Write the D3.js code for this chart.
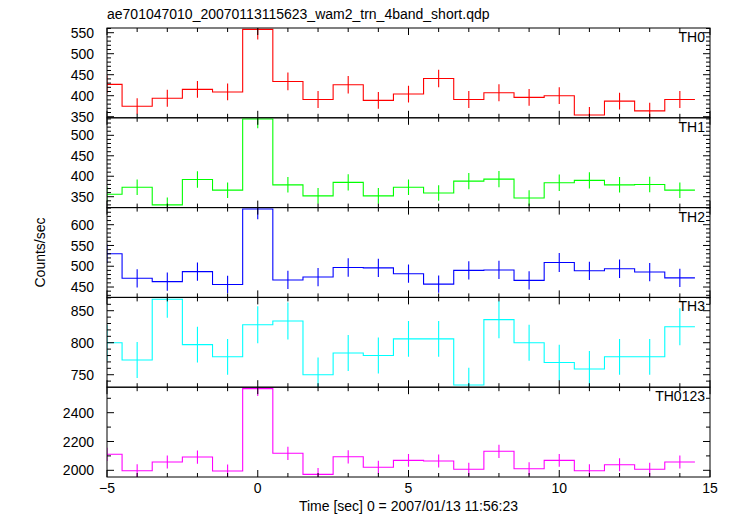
<!DOCTYPE html>
<html>
<head>
<meta charset="utf-8">
<script src="https://cdn.jsdelivr.net/npm/d3@7"></script>
<style>
  html, body { margin: 0; padding: 0; background: #fff; }
  svg { display: block; font-family: "Liberation Sans", Arial, Helvetica, sans-serif; }
</style>
</head>
<body>
<svg id="chart" width="733" height="516"></svg>
<script>
// ---- Data ----
const title = "ae701047010_20070113115623_wam2_trn_4band_short.qdp";
const xLabel = "Time [sec] 0 = 2007/01/13 11:56:23";
const yLabel = "Counts/sec";
const times = [-5, -4, -3, -2, -1, 0, 1, 2, 3, 4, 5, 6, 7, 8, 9, 10, 11, 12, 13, 14];
const xTicks = [-5, 0, 5, 10, 15];

const panelNames = ["TH0", "TH1", "TH2", "TH3", "TH0123"];
const panelColors = ["#ff0000", "#00ff00", "#0000ff", "#00ffff", "#ff00ff"];

const th0 = [427, 375, 394, 415, 409, 558, 434, 391, 426, 389, 404, 441, 391, 407, 396, 400, 354, 387, 364, 391];
const th0Err = [21, 19, 20, 20, 20, 24, 21, 20, 21, 20, 20, 21, 20, 20, 20, 20, 19, 20, 19, 20];
const th1 = [356, 373, 330, 392, 366, 540, 379, 352, 385, 352, 373, 359, 388, 393, 347, 384, 390, 379, 380, 366];
const th1Err = [19, 19, 18, 20, 19, 23, 19, 19, 20, 19, 19, 19, 20, 20, 19, 20, 20, 19, 19, 19];
const th2 = [530, 471, 463, 487, 456, 638, 467, 474, 497, 496, 482, 457, 490, 491, 466, 509, 489, 494, 486, 472];
const th2Err = [23, 22, 22, 22, 21, 25, 22, 22, 22, 22, 22, 21, 22, 22, 22, 23, 22, 22, 22, 22];
const th3 = [800, 773, 868, 797, 778, 828, 834, 750, 784, 780, 806, 806, 734, 836, 800, 769, 759, 778, 778, 825];
const th3Err = [28, 28, 29, 28, 28, 29, 29, 27, 28, 28, 28, 28, 27, 29, 28, 28, 28, 28, 28, 29];
const th0123 = [2111, 1997, 2058, 2092, 1995, 2567, 2118, 1972, 2094, 2021, 2069, 2065, 2007, 2132, 2011, 2069, 1997, 2039, 2007, 2058];
const th0123Err = [46, 45, 45, 46, 45, 51, 46, 44, 46, 45, 45, 45, 45, 46, 45, 45, 45, 45, 45, 45];

// axis ranges and tick settings per panel
const yDomains = [[347.4, 561.2], [323.4, 542.8], [425, 641.2], [730.5, 870.8], [1953.5, 2577]];
const yMajorSteps = [50, 50, 50, 50, 200];
const yMinorSteps = [10, 10, 10, 10, 100];

const seriesValues = [th0, th1, th2, th3, th0123];
const seriesErrors = [th0Err, th1Err, th2Err, th3Err, th0123Err];

// ---- Layout ----
const svg = d3.select("#chart");
const mLeft = 107, mRight = 710, mTop = 28, mBottom = 477;
const nP = panelNames.length;
const pH = (mBottom - mTop) / nP;

const x = d3.scaleLinear().domain([-5, 15]).range([mLeft, mRight]);

const defs = svg.append("defs");

function ticksBetween(lo, hi, step) {
  const out = [];
  const start = Math.ceil(lo / step - 1e-9) * step;
  for (let v = start; v <= hi + 1e-9; v += step) out.push(+v.toFixed(6));
  return out;
}

const xMinor = ticksBetween(-5, 15, 1);

panelNames.forEach((name, i) => {
  const y0 = mTop + i * pH, y1 = y0 + pH;
  const y = d3.scaleLinear().domain(yDomains[i]).range([y1, y0]);
  const g = svg.append("g");
  const color = panelColors[i];

  defs.append("clipPath").attr("id", "clip" + i)
    .append("rect").attr("x", mLeft).attr("y", y0).attr("width", mRight - mLeft).attr("height", pH);

  // data: step histogram
  const vals = seriesValues[i], errs = seriesErrors[i];
  const pts = [];
  times.forEach((t, k) => { pts.push([t - 0.5, vals[k]]); pts.push([t + 0.5, vals[k]]); });
  const line = d3.line().x(d => x(d[0])).y(d => y(d[1]));
  const dg = g.append("g").attr("clip-path", "url(#clip" + i + ")");
  dg.append("path").attr("d", line(pts)).attr("fill", "none")
    .attr("stroke", color).attr("stroke-width", 1.1);
  dg.selectAll("line.err").data(times).enter().append("line")
    .attr("x1", t => x(t)).attr("x2", t => x(t))
    .attr("y1", (t, k) => y(vals[k] - errs[k]))
    .attr("y2", (t, k) => y(vals[k] + errs[k]))
    .attr("stroke", color).attr("stroke-width", 1.1);

  // frame
  g.append("rect").attr("x", mLeft).attr("y", y0).attr("width", mRight - mLeft).attr("height", pH)
    .attr("fill", "none").attr("stroke", "#000").attr("stroke-width", 1);

  const tk = g.append("g").attr("stroke", "#000").attr("stroke-width", 1);
  // x ticks top and bottom (inward)
  xMinor.forEach(v => {
    const len = (v % 5 === 0) ? 7 : 4;
    const px = x(v);
    tk.append("line").attr("x1", px).attr("x2", px).attr("y1", y1).attr("y2", y1 - len);
    tk.append("line").attr("x1", px).attr("x2", px).attr("y1", y0).attr("y2", y0 + len);
  });
  // y ticks left and right
  const dom = yDomains[i];
  const majors = ticksBetween(dom[0], dom[1], yMajorSteps[i]);
  const minors = ticksBetween(dom[0], dom[1], yMinorSteps[i]);
  minors.forEach(v => {
    const isMaj = majors.some(m => Math.abs(m - v) < 1e-6);
    const len = isMaj ? 7 : 4;
    const py = y(v);
    tk.append("line").attr("x1", mLeft).attr("x2", mLeft + len).attr("y1", py).attr("y2", py);
    tk.append("line").attr("x1", mRight).attr("x2", mRight - len).attr("y1", py).attr("y2", py);
  });
  // y tick labels
  g.selectAll("text.yl").data(majors).enter().append("text")
    .attr("x", mLeft - 13).attr("y", v => y(v)).attr("dy", "0.36em")
    .attr("text-anchor", "end").attr("font-size", 14).attr("fill", "#000")
    .text(v => v);

  // panel name
  g.append("text").attr("x", mRight - 5).attr("y", y0 + 14)
    .attr("text-anchor", "end").attr("font-size", 14).attr("fill", "#000").text(name);
});

// x tick labels (bottom)
svg.selectAll("text.xl").data(xTicks).enter().append("text")
  .attr("x", v => x(v)).attr("y", mBottom + 16)
  .attr("text-anchor", "middle").attr("font-size", 14).attr("fill", "#000")
  .text(v => v < 0 ? "\u2212" + Math.abs(v) : v);

// axis labels & title
svg.append("text").attr("x", (mLeft + mRight) / 2).attr("y", 511)
  .attr("text-anchor", "middle").attr("font-size", 14).attr("fill", "#000").text(xLabel);
svg.append("text").attr("transform", "translate(45," + ((mTop + mBottom) / 2) + ") rotate(-90)")
  .attr("text-anchor", "middle").attr("font-size", 14).attr("fill", "#000").text(yLabel);
svg.append("text").attr("x", mLeft).attr("y", 19)
  .attr("font-size", 14).attr("fill", "#000").text(title);
</script>
</body>
</html>
